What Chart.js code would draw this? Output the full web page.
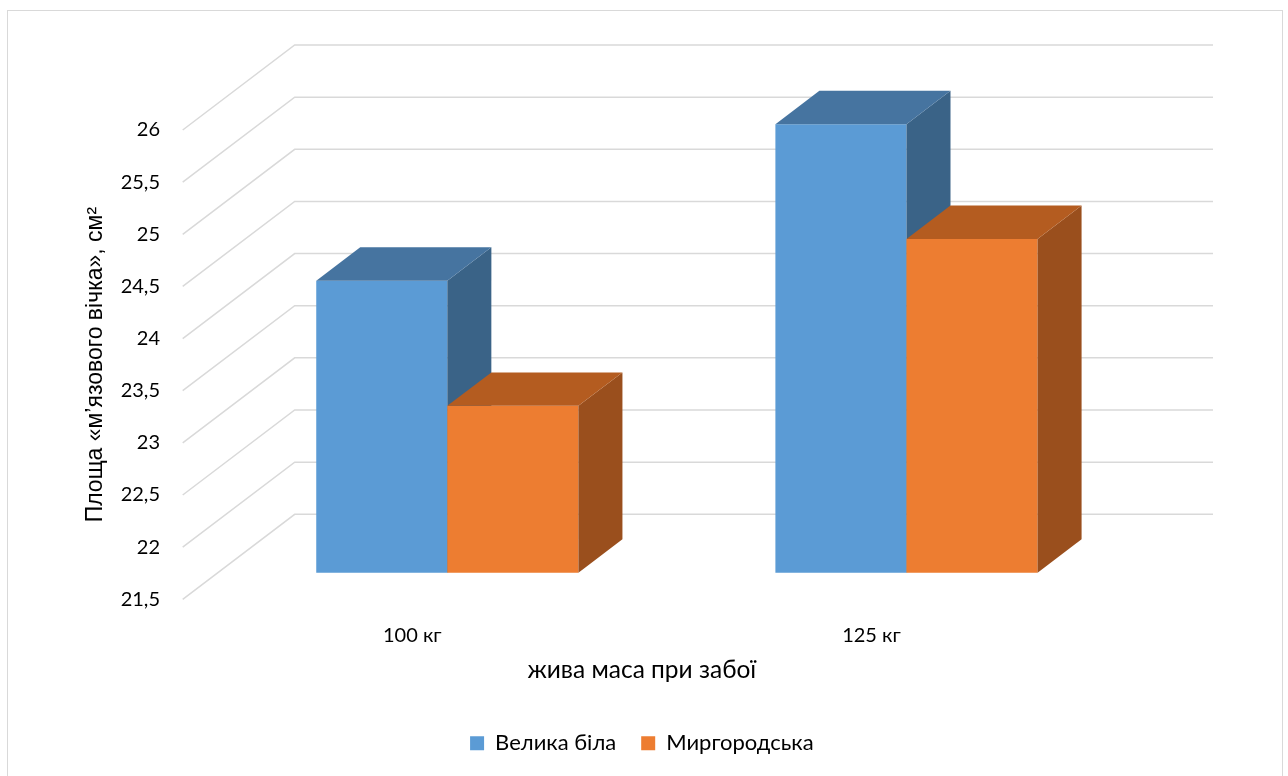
<!DOCTYPE html>
<html lang="uk">
<head>
    <meta charset="UTF-8">
    <title>Площа «м’язового вічка»</title>
    <script src="https://cdn.jsdelivr.net/npm/chart.js"></script>
    <style>
        html, body {
            margin: 0;
            padding: 0;
            background: #fff;
            overflow: hidden;
        }
        /* рамка навколо діаграми */
        #frame {
            position: absolute;
            left: 7px;
            top: 10px;
            width: 1276px;
            height: 800px;
            border: 1.5px solid #d9d9d9;
            box-sizing: border-box;
        }
        #chart {
            position: absolute;
            left: 0;
            top: 0;
        }
    </style>
</head>
<body>
    <div id="frame"></div>
    <canvas id="chart" width="1288" height="776"></canvas>

    <script>
        // Дані
        const categories = ['100 кг', '125 кг'];
        const velykaBila = [24.3, 25.8];
        const myrhorodska = [23.1, 24.7];
        const yTickValues = [21.5, 22, 22.5, 23, 23.5, 24, 24.5, 25, 25.5, 26];
        const yMin = 21.5;
        const yMax = 26;

        const FONT = 'Lato';

        // Глибина "3D": зсув задньої стінки відносно передньої площини осі
        const WALL_DX = 112;
        const WALL_DY = -85;
        const BAR_FRONT = 0.313;   // передня грань стовпчика (частка глибини)
        const BAR_DEPTH = 0.393;   // товщина стовпчика (частка глибини)

        const shade = {
            '#5B9BD5': { top: '#4674A0', side: '#3A6387' },
            '#ED7D31': { top: '#B45C20', side: '#9A4F1D' }
        };

        function drawFaces(ctx, bar, c) {
            const { x, y, base, width } = bar.getProps(['x', 'y', 'base', 'width'], true);
            const dx = WALL_DX * BAR_DEPTH;
            const dy = WALL_DY * BAR_DEPTH;
            const l = x - width / 2;
            const r = x + width / 2;
            // бокова грань
            ctx.fillStyle = c.side;
            ctx.beginPath();
            ctx.moveTo(r, y);
            ctx.lineTo(r + dx, y + dy);
            ctx.lineTo(r + dx, base + dy);
            ctx.lineTo(r, base);
            ctx.closePath();
            ctx.fill();
            // верхня грань
            ctx.fillStyle = c.top;
            ctx.beginPath();
            ctx.moveTo(l, y);
            ctx.lineTo(l + dx, y + dy);
            ctx.lineTo(r + dx, y + dy);
            ctx.lineTo(r, y);
            ctx.closePath();
            ctx.fill();
        }

        const walls3d = {
            id: 'walls3d',
            beforeDatasetsDraw(chart) {
                const { ctx, chartArea, scales } = chart;
                const y = scales.y;
                ctx.save();
                ctx.strokeStyle = '#d9d9d9';
                ctx.lineWidth = 1.5;
                y.ticks.forEach(t => {
                    const py = y.getPixelForValue(t.value);
                    ctx.beginPath();
                    ctx.moveTo(chartArea.left, py);
                    ctx.lineTo(chartArea.left + WALL_DX, py + WALL_DY);
                    ctx.lineTo(chartArea.right + WALL_DX, py + WALL_DY);
                    ctx.stroke();
                });
                ctx.restore();
            },
            // стандартне малювання вимкнене: серії малюються нижче по порядку
            beforeDatasetDraw() {
                return false;
            },
            afterDatasetsDraw(chart) {
                const ctx = chart.ctx;
                ctx.save();
                ctx.translate(WALL_DX * BAR_FRONT, WALL_DY * BAR_FRONT);
                chart.data.datasets.forEach((ds, i) => {
                    const meta = chart.getDatasetMeta(i);
                    const c = shade[ds.backgroundColor];
                    meta.data.forEach(bar => {
                        bar.draw(ctx);
                        drawFaces(ctx, bar, c);
                    });
                });
                ctx.restore();
            }
        };

        const chart = new Chart(document.getElementById('chart'), {
            type: 'bar',
            data: {
                labels: categories,
                datasets: [
                    {
                        label: 'Велика біла',
                        data: velykaBila,
                        backgroundColor: '#5B9BD5',
                        base: yMin,
                        categoryPercentage: 0.571,
                        barPercentage: 1.0
                    },
                    {
                        label: 'Миргородська',
                        data: myrhorodska,
                        backgroundColor: '#ED7D31',
                        base: yMin,
                        categoryPercentage: 0.571,
                        barPercentage: 1.0
                    }
                ]
            },
            options: {
                responsive: false,
                animation: false,
                devicePixelRatio: 1,
                layout: {
                    padding: { top: 130, right: 187, left: 0, bottom: 11.7 }
                },
                plugins: {
                    tooltip: { enabled: false },
                    legend: {
                        position: 'bottom',
                        fullSize: false,
                        labels: {
                            boxWidth: 14,
                            boxHeight: 14,
                            padding: 25,
                            color: '#000',
                            font: { family: FONT, size: 22 }
                        }
                    }
                },
                scales: {
                    x: {
                        grid: { display: false, drawTicks: false },
                        border: { display: false },
                        ticks: {
                            padding: 24,
                            color: '#000',
                            font: { family: FONT, size: 20 }
                        },
                        title: {
                            display: true,
                            text: 'жива маса при забої',
                            color: '#000',
                            font: { family: FONT, size: 24.5 },
                            padding: { top: 0, bottom: 23 }
                        },
                        afterFit(scale) { scale.height = 108; }
                    },
                    y: {
                        min: yMin,
                        max: yMax,
                        beginAtZero: false,
                        grid: { display: false, drawTicks: false },
                        border: { display: false },
                        afterBuildTicks(scale) {
                            scale.ticks = yTickValues.map(v => ({ value: v }));
                        },
                        ticks: {
                            padding: 22.7,
                            color: '#000',
                            font: { family: FONT, size: 20 },
                            callback: v => String(v).replace('.', ',')
                        },
                        title: {
                            display: true,
                            text: 'Площа «м’язового вічка», см²',
                            color: '#000',
                            font: { family: 'Liberation Sans', size: 23 },
                            padding: { top: 82, bottom: 0 }
                        },
                        afterFit(scale) { scale.width = 182.7; }
                    }
                }
            },
            plugins: [walls3d]
        });
    </script>
</body>
</html>
